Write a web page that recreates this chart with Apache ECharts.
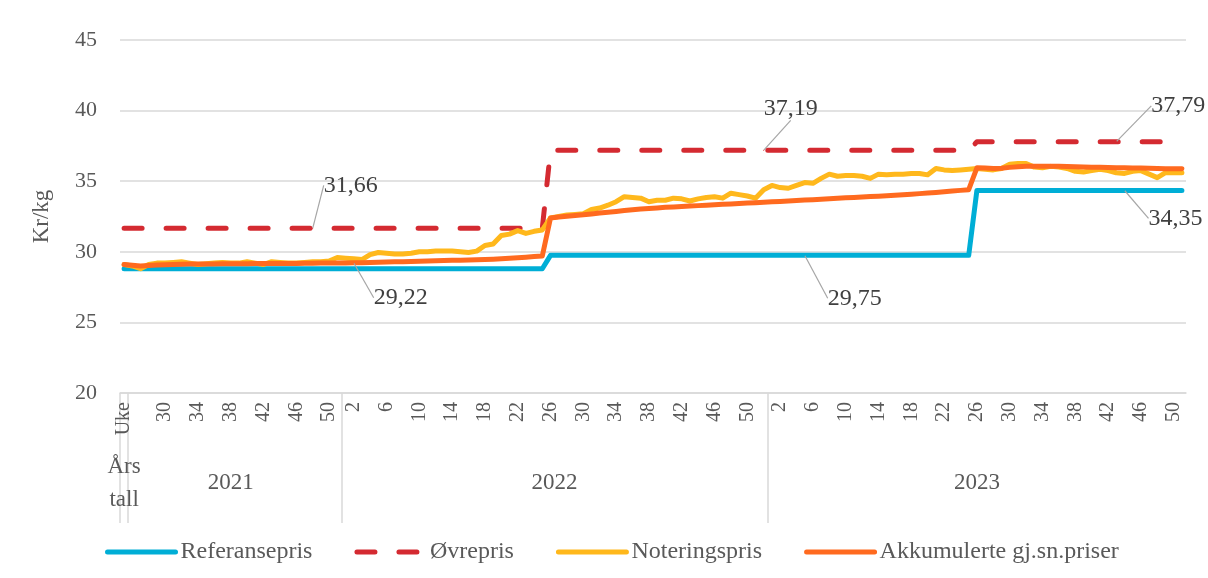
<!DOCTYPE html>
<html>
<head>
	<meta charset="utf-8">
	<title>Priser</title>
	<style>html,body{margin:0;padding:0;background:#fff;}</style>
</head>
<body>
	<div style="width:1208px;height:578px;" id="chart1"></div>

	<script src="https://cdn.jsdelivr.net/npm/echarts@6/dist/echarts.min.js"></script>
	<script>
	// årsblokker på x-aksen (første og siste uke i hver blokk)
	var years = ['2021', '2022', '2023'];
	var firstWeek = [25, 1, 1];
	var lastWeek = [51, 52, 51];

	// Referansepris
	var referansepris = [
		28.8, 28.8, 28.8, 28.8, 28.8, 28.8, 28.8, 28.8, 28.8, 28.8, 28.8, 28.8, 28.8,
		28.8, 28.8, 28.8, 28.8, 28.8, 28.8, 28.8, 28.8, 28.8, 28.8, 28.8, 28.8, 28.8,
		28.8, 28.8, 28.8, 28.8, 28.8, 28.8, 28.8, 28.8, 28.8, 28.8, 28.8, 28.8, 28.8,
		28.8, 28.8, 28.8, 28.8, 28.8, 28.8, 28.8, 28.8, 28.8, 28.8, 28.8, 28.8, 28.8,
		29.75, 29.75, 29.75, 29.75, 29.75, 29.75, 29.75, 29.75, 29.75, 29.75, 29.75, 29.75, 29.75,
		29.75, 29.75, 29.75, 29.75, 29.75, 29.75, 29.75, 29.75, 29.75, 29.75, 29.75, 29.75, 29.75,
		29.75, 29.75, 29.75, 29.75, 29.75, 29.75, 29.75, 29.75, 29.75, 29.75, 29.75, 29.75, 29.75,
		29.75, 29.75, 29.75, 29.75, 29.75, 29.75, 29.75, 29.75, 29.75, 29.75, 29.75, 29.75, 29.75,
		34.35, 34.35, 34.35, 34.35, 34.35, 34.35, 34.35, 34.35, 34.35, 34.35, 34.35, 34.35, 34.35,
		34.35, 34.35, 34.35, 34.35, 34.35, 34.35, 34.35, 34.35, 34.35, 34.35, 34.35, 34.35, 34.35
	];
	// Øvrepris
	var ovrepris = [
		31.66, 31.66, 31.66, 31.66, 31.66, 31.66, 31.66, 31.66, 31.66, 31.66, 31.66, 31.66, 31.66,
		31.66, 31.66, 31.66, 31.66, 31.66, 31.66, 31.66, 31.66, 31.66, 31.66, 31.66, 31.66, 31.66,
		31.66, 31.66, 31.66, 31.66, 31.66, 31.66, 31.66, 31.66, 31.66, 31.66, 31.66, 31.66, 31.66,
		31.66, 31.66, 31.66, 31.66, 31.66, 31.66, 31.66, 31.66, 31.66, 31.66, 31.66, 31.66, 31.66,
		37.19, 37.19, 37.19, 37.19, 37.19, 37.19, 37.19, 37.19, 37.19, 37.19, 37.19, 37.19, 37.19,
		37.19, 37.19, 37.19, 37.19, 37.19, 37.19, 37.19, 37.19, 37.19, 37.19, 37.19, 37.19, 37.19,
		37.19, 37.19, 37.19, 37.19, 37.19, 37.19, 37.19, 37.19, 37.19, 37.19, 37.19, 37.19, 37.19,
		37.19, 37.19, 37.19, 37.19, 37.19, 37.19, 37.19, 37.19, 37.19, 37.19, 37.19, 37.19, 37.19,
		37.79, 37.79, 37.79, 37.79, 37.79, 37.79, 37.79, 37.79, 37.79, 37.79, 37.79, 37.79, 37.79,
		37.79, 37.79, 37.79, 37.79, 37.79, 37.79, 37.79, 37.79, 37.79, 37.79, 37.79, 37.79, 37.79
	];
	// Noteringspris
	var noteringspris = [
		29.1, 29.0, 28.8, 29.1, 29.2, 29.2, 29.25, 29.3, 29.2, 29.1, 29.15, 29.2, 29.25,
		29.2, 29.2, 29.3, 29.2, 29.1, 29.3, 29.25, 29.2, 29.2, 29.25, 29.3, 29.3, 29.35,
		29.6, 29.55, 29.5, 29.45, 29.8, 29.95, 29.9, 29.85, 29.85, 29.9, 30.0, 30.0, 30.05,
		30.05, 30.05, 30.0, 29.95, 30.05, 30.45, 30.55, 31.15, 31.25, 31.5, 31.3, 31.45, 31.55,
		32.4, 32.5, 32.6, 32.65, 32.7, 33.0, 33.1, 33.3, 33.55, 33.9, 33.85, 33.8, 33.55,
		33.65, 33.65, 33.8, 33.75, 33.6, 33.75, 33.85, 33.9, 33.8, 34.15, 34.05, 33.95, 33.8,
		34.4, 34.7, 34.55, 34.5, 34.7, 34.9, 34.85, 35.2, 35.5, 35.35, 35.4, 35.4, 35.35,
		35.2, 35.5, 35.45, 35.5, 35.5, 35.55, 35.55, 35.45, 35.9, 35.8, 35.75, 35.8, 35.85,
		35.9, 35.85, 35.8, 35.9, 36.2, 36.25, 36.25, 36.0, 35.95, 36.05, 36.0, 35.9, 35.7,
		35.65, 35.75, 35.85, 35.75, 35.6, 35.55, 35.7, 35.75, 35.5, 35.25, 35.6, 35.6, 35.6
	];
	// Akkumulerte gj.sn.priser
	var akkumulert = [
		29.10, 29.05, 29.00, 29.03, 29.06, 29.08, 29.10, 29.12, 29.13, 29.13, 29.13, 29.14, 29.15,
		29.15, 29.16, 29.16, 29.17, 29.17, 29.17, 29.18, 29.18, 29.18, 29.19, 29.19, 29.20, 29.20,
		29.21, 29.21, 29.22, 29.23, 29.24, 29.26, 29.27, 29.29, 29.30, 29.32, 29.33, 29.35, 29.36,
		29.38, 29.40, 29.41, 29.42, 29.44, 29.46, 29.48, 29.51, 29.54, 29.58, 29.62, 29.66, 29.70,
		32.40, 32.46, 32.52, 32.57, 32.62, 32.68, 32.74, 32.80, 32.86, 32.92, 32.98, 33.03, 33.07,
		33.11, 33.15, 33.18, 33.21, 33.24, 33.27, 33.30, 33.33, 33.36, 33.39, 33.42, 33.45, 33.48,
		33.51, 33.54, 33.57, 33.60, 33.63, 33.66, 33.69, 33.72, 33.76, 33.79, 33.82, 33.85, 33.88,
		33.91, 33.94, 33.97, 34.00, 34.04, 34.08, 34.12, 34.16, 34.20, 34.25, 34.30, 34.35, 34.40,
		35.95, 35.93, 35.90, 35.92, 35.98, 36.03, 36.06, 36.06, 36.05, 36.05, 36.05, 36.04, 36.02,
		36.00, 35.99, 35.98, 35.97, 35.96, 35.95, 35.94, 35.93, 35.92, 35.90, 35.89, 35.89, 35.88
	];

	var FONT = '"Liberation Serif", "DejaVu Serif", serif';

	// kategorier: én per uke
	var cats = [], weekNo = [], blockStart = [];
	var yearPos = [0.5], yearText = ['Års\ntall'];
	for (var y = 0; y < years.length; y++) {
		blockStart.push(cats.length);
		for (var w = firstWeek[y]; w <= lastWeek[y]; w++) {
			cats.push(years[y] + '-' + w);
			weekNo.push(w);
		}
		yearPos.push(blockStart[y] + (lastWeek[y] - firstWeek[y] + 1) / 2);
		yearText.push(years[y]);
	}
	var nCats = cats.length;
	var dividers = [0, 1].concat(blockStart.slice(1));

	function showWeek(i) {
		return i === 0 || (i > 1 && (weekNo[i] - 2) % 4 === 0);
	}

	// datalabels: serie -> {indeks: [dx, dy]}
	var labelOffsets = [
		{83: [50, 43], 122: [51, 28]},
		{23: [38, -43], 78: [27, -42], 121: [62, -36]},
		{},
		{28: [47, 35]}
	];

	function buildData(values, s) {
		return values.map(function (v, i) {
			if (labelOffsets[s][i]) {
				return {value: v, symbol: 'circle', symbolSize: 1, label: {show: true}};
			}
			return v;
		});
	}

	function makeSeries(name, values, s, color, lineType, width) {
		return {
			name: name,
			type: 'line',
			data: buildData(values, s),
			symbol: 'none',
			showSymbol: true,
			showAllSymbol: true,
			lineStyle: {color: color, width: width, type: lineType, cap: 'round', join: 'round'},
			itemStyle: {color: color},
			label: {
				show: false, position: 'inside', fontFamily: FONT, fontSize: 24, color: '#404040',
				formatter: function (p) { return p.value.toFixed(2).replace('.', ','); }
			},
			labelLine: {show: true, lineStyle: {color: '#a6a6a6', width: 1.2}},
			labelLayout: function (p) {
				var o = labelOffsets[s][p.dataIndex];
				if (o) return {dx: o[0], dy: o[1]};
			}
		};
	}

	var myChart = echarts.init(document.getElementById('chart1'));

	var option = {
		animation: false,
		grid: {left: 120, right: 22, top: 40, bottom: 185},
		legend: {
			left: 100, top: 535,
			itemWidth: 68, itemHeight: 14, itemGap: 42,
			itemStyle: {opacity: 0},
			lineStyle: {width: 5, cap: 'round'},
			textStyle: {fontFamily: FONT, fontSize: 24, color: '#595959'},
			data: ['Referansepris', 'Øvrepris', 'Noteringspris', 'Akkumulerte gj.sn.priser']
		},
		xAxis: [{
			type: 'category',
			data: cats,
			boundaryGap: true,
			axisLine: {lineStyle: {color: '#d9d9d9', width: 1.5}},
			axisTick: {show: false},
			axisLabel: {
				rotate: 90, margin: 9,
				fontFamily: FONT, fontSize: 20, color: '#595959',
				interval: function (i) { return showWeek(i); },
				formatter: function (v, i) { return i === 0 ? 'Uke' : String(weekNo[i]); }
			}
		}, {
			// årsrad: skillelinjer og årstall
			type: 'value',
			position: 'bottom',
			min: 0, max: nCats,
			axisLine: {show: false},
			splitLine: {show: false},
			axisTick: {
				show: true, length: 130, customValues: dividers,
				lineStyle: {color: '#d9d9d9', width: 1.5}
			},
			axisLabel: {
				margin: 90, verticalAlign: 'middle', lineHeight: 33,
				customValues: yearPos,
				fontFamily: FONT, fontSize: 23, color: '#595959',
				formatter: function (v) {
					var k = yearPos.indexOf(v);
					return k >= 0 ? yearText[k] : '';
				}
			}
		}],
		yAxis: {
			type: 'value',
			min: 20, max: 45, interval: 5,
			name: 'Kr/kg',
			nameLocation: 'middle',
			nameGap: 67,
			nameTextStyle: {fontFamily: FONT, fontSize: 23, color: '#595959'},
			axisLine: {show: false},
			axisTick: {show: false},
			axisLabel: {margin: 23, fontFamily: FONT, fontSize: 22, color: '#595959'},
			splitLine: {lineStyle: {color: '#d9d9d9', width: 1.5}}
		},
		series: [
			makeSeries('Referansepris', referansepris, 0, '#00AED6', 'solid', 5),
			makeSeries('Øvrepris', ovrepris, 1, '#D42A31', [18, 24], 5),
			makeSeries('Noteringspris', noteringspris, 2, '#FFB81C', 'solid', 5),
			makeSeries('Akkumulerte gj.sn.priser', akkumulert, 3, '#FF6A1F', 'solid', 5)
		]
	};

	myChart.setOption(option);
	</script>
</body>
</html>
